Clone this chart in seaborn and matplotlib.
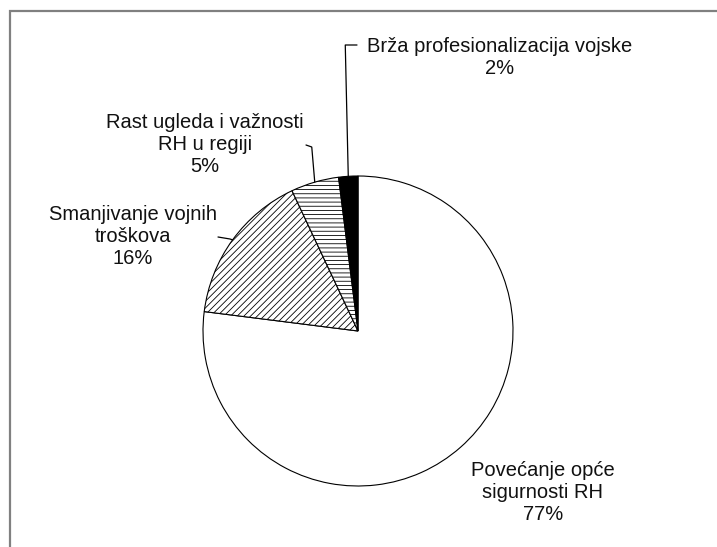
import matplotlib
matplotlib.use("Agg")
import numpy as np
import matplotlib.pyplot as plt
import seaborn as sns
from matplotlib.patches import Rectangle

# data
labels = ["Povećanje opće\nsigurnosti RH", "Smanjivanje vojnih\ntroškova",
          "Rast ugleda i važnosti\nRH u regiji", "Brža profesionalizacija vojske"]
shares = [77, 16, 5, 2]
hatches = ["", "/////", "----", ""]
fills = ["white", "white", "white", "black"]

sns.set_theme(style="white")
plt.rcParams["font.family"] = ["Liberation Sans", "DejaVu Sans"]
plt.rcParams["hatch.linewidth"] = 0.6

W, H = 717, 547
fig = plt.figure(figsize=(W / 100, H / 100), dpi=100)
ax = fig.add_axes([0, 0, 1, 1])

cx, cy, R = 358, H - 331, 155
wedges, _ = ax.pie(shares, colors=fills, startangle=90, counterclock=False,
                   center=(cx, cy), radius=R, frame=True,
                   wedgeprops=dict(edgecolor="black", linewidth=0.8))
for w, h in zip(wedges, hatches):
    w.set_hatch(h)
ax.set_xlim(0, W)
ax.set_ylim(0, H)
ax.set_aspect("equal")
ax.axis("off")

# label layout (text centre, leader start x)
label_pos = [(543, H - 492, None),
             (133, H - 237, 218),
             (205, H - 145, 306),
             (500, H - 58, 357)]
for w, lab, val, (tx, ty, lx) in zip(wedges, labels, shares, label_pos):
    ax.text(tx, ty, f"{lab}\n{val}%", ha="center", va="center",
            fontsize=14.5, linespacing=1.2, color="#111111")
    if lx is None:
        continue
    mid = np.deg2rad((w.theta1 + w.theta2) / 2)
    px, py = cx + R * np.cos(mid), cy + R * np.sin(mid)
    ly = ty + 13 if val == 2 else ty
    if val == 2:
        xs = [lx, px - 3, px]
        ys = [ly, ly, py]
    elif val == 5:
        xs = [lx, px - 3, px]
        ys = [ly, ly - 2, py]
    else:
        xs = [lx, lx + 12, px]
        ys = [ly, ly - 2, py]
    ax.plot(xs, ys, color="black", lw=0.9)

# chart frame
fig.patches.append(Rectangle((10 / W, -0.1), 1.0, (H - 11) / H + 0.1,
                             transform=fig.transFigure, fill=False,
                             edgecolor="#808080", linewidth=1.6))

fig.savefig("out.png", dpi=100, facecolor="white")
